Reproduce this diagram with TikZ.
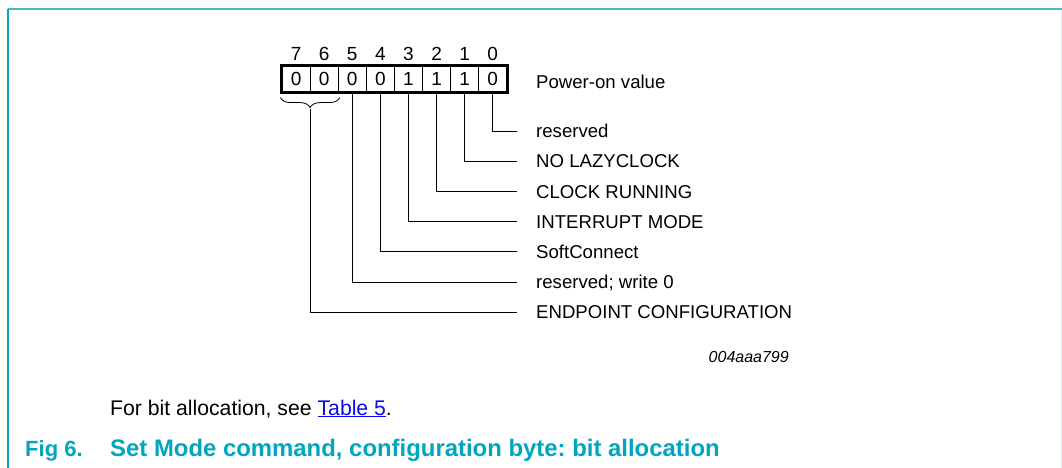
\documentclass[tikz,border=0pt]{standalone}
\usepackage{fontspec}
\setmainfont{Liberation Sans}
\usepackage{tikz}
\usetikzlibrary{calc,positioning,decorations.pathreplacing}
\definecolor{nxpteal}{RGB}{0,166,190}
\definecolor{frameteal}{RGB}{80,184,198}
\definecolor{framefaint}{RGB}{222,236,238}
\definecolor{linkblue}{RGB}{10,10,240}
\frenchspacing

\begin{document}
\begin{tikzpicture}[x=1pt,y=-1pt]

\tikzset{bitcell/.style={draw=black,line width=1.2pt,minimum width=28.1pt,minimum height=26pt,inner sep=0pt,font=\fontsize{19}{19}\selectfont},
bitnum/.style={inner sep=0pt,font=\fontsize{19}{19}\selectfont},
fieldlabel/.style={anchor=west,inner xsep=19pt,inner ysep=0pt,text height=13.3pt,text depth=0pt,font=\fontsize{18.6}{18.6}\selectfont},
leader/.style={line width=0.8pt}}

\useasboundingbox (0,0) rectangle (1062,468);

% Frame
\draw[frameteal,line width=2pt] (8,9.5) -- (1062,9.5);
\draw[nxpteal,line width=1.3pt] (8,9) -- (8,468);
\draw[framefaint,line width=1pt] (1061,10) -- (1061,468);

% Register cells and bit numbers
\foreach \v [count=\i from 0, evaluate=\i as \x using 296.05+28.1*\i, evaluate=\i as \b using int(7-\i)] in {0,0,0,0,1,1,1,0} {
  \node[bitcell] (b\b) at (\x,79) {\v};
  \node[bitnum] (n\b) at (\x,54) {\b};
}
\draw[line width=2.4pt] (b7.north west) rectangle (b0.south east);

% Power-on value
\node[fieldlabel] (poweron) at (517,81.5) {Power-on value};

% Brace over bits 7 and 6
\draw[line width=0.8pt,decorate,decoration={brace,mirror,amplitude=10pt}] ($(b7.south west)+(-1,5)$) -- ($(b6.south east)+(1,5)$);
\coordinate (bracetip) at ($(b7.south east)+(0,16)$);

% Field labels
\node[fieldlabel] (lab0) at (517,131) {reserved};
\node[fieldlabel] (lab1) at (517,161.2) {NO LAZYCLOCK};
\node[fieldlabel] (lab2) at (517,191.4) {CLOCK RUNNING};
\node[fieldlabel] (lab3) at (517,221.6) {INTERRUPT MODE};
\node[fieldlabel] (lab4) at (517,251.8) {SoftConnect};
\node[fieldlabel] (lab5) at (517,282) {reserved; write 0};
\node[fieldlabel] (labEP) at (517,312.2) {ENDPOINT CONFIGURATION};

% Leaders
\foreach \b in {0,1,2,3,4,5} \draw[leader] (b\b.south) |- (lab\b);
\draw[leader] (bracetip) |- (labEP);

% Drawing number
\node[anchor=base east,inner sep=0pt,font=\fontsize{16}{16}\selectfont\itshape] (docnum) at (789,362) {004aaa799};

% Note and caption
\node[anchor=base west,inner sep=0pt,font=\fontsize{21.2}{22}\selectfont] (note) at (110,415) {For bit allocation, see \textcolor{linkblue}{\underline{Table 5}}.};
\node[anchor=base west,inner sep=0pt,text=nxpteal,font=\fontsize{22}{24}\selectfont\bfseries] (fignum) at (25,456) {Fig 6.};
\node[anchor=base west,inner sep=0pt,text=nxpteal,font=\fontsize{23.9}{24}\selectfont\bfseries] (figtitle) at (110,456) {Set Mode command, configuration byte: bit allocation};

\end{tikzpicture}
\end{document}
